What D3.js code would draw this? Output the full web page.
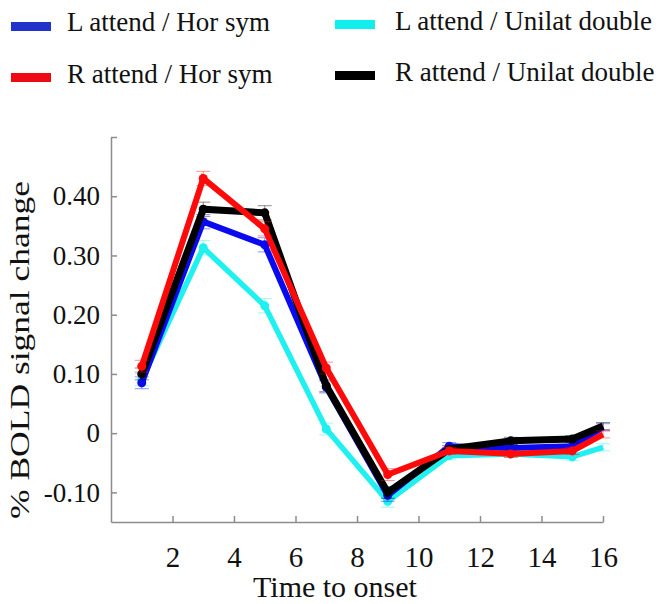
<!DOCTYPE html>
<html>
<head>
<meta charset="utf-8">
<script src="https://cdn.jsdelivr.net/npm/d3@7"></script>
<style>
  html, body { margin: 0; padding: 0; background: #fff; }
  svg { display: block; }
</style>
</head>
<body>
<svg id="chart" width="661" height="604"></svg>
<script>
// ---- data ----
const times = [1, 3, 5, 7, 9, 11, 13, 15, 16];
const seriesNames = ["L attend / Hor sym", "R attend / Hor sym", "L attend / Unilat double", "R attend / Unilat double"];
const seriesColors = ["#0a0af0", "#ff0a0a", "#1ff0f0", "#000000"];
const lHorSym      = [0.085, 0.357, 0.318, 0.078, -0.105, -0.022, -0.025, -0.022, 0.010];
const rHorSym      = [0.113, 0.430, 0.345, 0.110, -0.070, -0.030, -0.035, -0.030, -0.002];
const lUnilatDbl   = [0.090, 0.313, 0.215, 0.007, -0.115, -0.038, -0.035, -0.040, -0.024];
const rUnilatDbl   = [0.100, 0.378, 0.372, 0.080, -0.100, -0.027, -0.013, -0.010, 0.012];
const errHalf      = [0.010, 0.012, 0.012, 0.010, 0.010, 0.006, 0.006, 0.006, 0.006];
const xTicks = [2, 4, 6, 8, 10, 12, 14, 16];
const xTickLabels = ["2", "4", "6", "8", "10", "12", "14", "16"];
const yTicks = [-0.10, 0, 0.10, 0.20, 0.30, 0.40, 0.50];
const yTickLabels = ["-0.10", "0", "0.10", "0.20", "0.30", "0.40", ""];

const seriesValues = [lHorSym, rHorSym, lUnilatDbl, rUnilatDbl];
const lineWidths = [6, 6, 5.5, 7];
const drawOrder = [2, 0, 3, 1];

const svg = d3.select("#chart");
const font = "'Liberation Serif', 'Times New Roman', serif";

svg.append("rect").attr("width", 661).attr("height", 604).attr("fill", "#fff");

const x = d3.scaleLinear().domain([0, 16]).range([111, 603]);
const y = d3.scaleLinear().domain([-0.15, 0.5]).range([522, 137]);

// ---- axes ----
const axisColor = "#8c8c8c";
const yAxis = svg.append("g").attr("transform", `translate(${x(0)},0)`)
  .call(d3.axisLeft(y).tickValues(yTicks)
    .tickFormat((d, i) => yTickLabels[i])
    .tickSizeInner(-6).tickSizeOuter(0).tickPadding(11));
const xAxis = svg.append("g").attr("transform", `translate(0,${y(-0.15)})`)
  .call(d3.axisBottom(x).tickValues(xTicks)
    .tickFormat((d, i) => xTickLabels[i])
    .tickSizeInner(-6).tickSizeOuter(0).tickPadding(24));
[yAxis, xAxis].forEach(g => {
  g.select(".domain").attr("stroke", axisColor).attr("stroke-width", 1.5);
  g.selectAll(".tick line").attr("stroke", axisColor).attr("stroke-width", 1.5);
  g.selectAll("text").attr("fill", "#111").attr("font-family", font);
});
yAxis.selectAll("text").attr("font-size", 27);
xAxis.selectAll("text").attr("font-size", 29);

// axis titles
svg.append("text")
  .attr("transform", "translate(29,350) rotate(-90)")
  .attr("text-anchor", "middle")
  .attr("font-family", font).attr("font-size", 28).attr("fill", "#111")
  .attr("textLength", 338).attr("lengthAdjust", "spacingAndGlyphs")
  .text("% BOLD signal change");
svg.append("text")
  .attr("x", 335).attr("y", 597)
  .attr("text-anchor", "middle")
  .attr("font-family", font).attr("font-size", 30).attr("fill", "#111")
  .text("Time to onset");

// ---- series ----
const line = d3.line().x(d => x(d[0])).y(d => y(d[1])).curve(d3.curveLinear);
const plot = svg.append("g");

drawOrder.forEach(si => {
  const vals = seriesValues[si];
  const pts = times.map((t, i) => [t, vals[i]]);
  const g = plot.append("g");
  // error bars
  const eb = g.append("g").attr("stroke", seriesColors[si]).attr("stroke-opacity", 0.45).attr("stroke-width", 1);
  pts.forEach((p, i) => {
    const cx = x(p[0]);
    const y1 = y(p[1] + errHalf[i]), y2 = y(p[1] - errHalf[i]);
    eb.append("line").attr("x1", cx).attr("x2", cx).attr("y1", y1).attr("y2", y2);
    eb.append("line").attr("x1", cx - 7).attr("x2", cx + 7).attr("y1", y1).attr("y2", y1);
    eb.append("line").attr("x1", cx - 7).attr("x2", cx + 7).attr("y1", y2).attr("y2", y2);
  });
  g.append("path").datum(pts)
    .attr("d", line)
    .attr("fill", "none")
    .attr("stroke", seriesColors[si])
    .attr("stroke-width", lineWidths[si])
    .attr("stroke-linejoin", "miter");
  g.selectAll("circle").data(pts.slice(0, 8)).join("circle")
    .attr("cx", d => x(d[0])).attr("cy", d => y(d[1]))
    .attr("r", 4.5).attr("fill", seriesColors[si]);
});

// ---- legend ----
const legendPos = [
  { sx: 11, sy: 22, tx: 67, ty: 31 },
  { sx: 11, sy: 73, tx: 67, ty: 83 },
  { sx: 335, sy: 20, tx: 395, ty: 30 },
  { sx: 335, sy: 71, tx: 395, ty: 81 }
];
const legendSwatch = ["#2233cc", "#ee0a14", "#11eeee", "#000000"];
const leg = svg.append("g");
seriesNames.forEach((name, i) => {
  const p = legendPos[i];
  leg.append("rect").attr("x", p.sx).attr("y", p.sy).attr("width", 40).attr("height", 9)
    .attr("fill", legendSwatch[i]);
  leg.append("text").attr("x", p.tx).attr("y", p.ty)
    .attr("font-family", font).attr("font-size", 27).attr("fill", "#111")
    .text(name);
});
</script>
</body>
</html>
